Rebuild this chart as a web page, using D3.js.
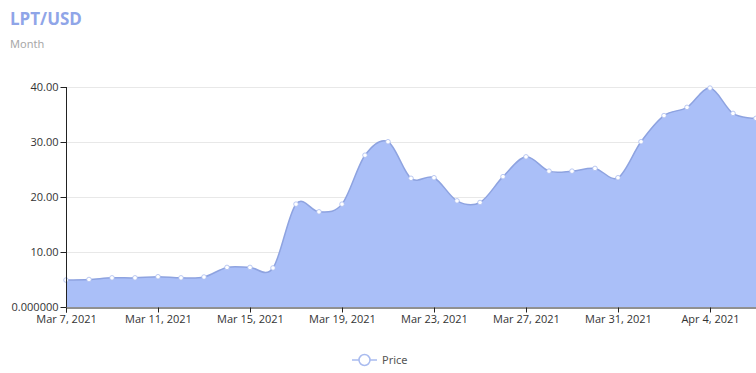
<!DOCTYPE html>
<html>
<head>
<meta charset="utf-8">
<script src="https://cdn.jsdelivr.net/npm/d3@7"></script>
<style>
  body { margin: 0; background: #fff; }
  svg { display: block; font-family: "Noto Sans", sans-serif; }
</style>
</head>
<body>
<div id="chart"></div>
<script>
// daily closes, Mar 7 - Apr 6 2021
var dates = ["2021-03-07","2021-03-08","2021-03-09","2021-03-10","2021-03-11","2021-03-12","2021-03-13",
  "2021-03-14","2021-03-15","2021-03-16","2021-03-17","2021-03-18","2021-03-19","2021-03-20","2021-03-21",
  "2021-03-22","2021-03-23","2021-03-24","2021-03-25","2021-03-26","2021-03-27","2021-03-28","2021-03-29",
  "2021-03-30","2021-03-31","2021-04-01","2021-04-02","2021-04-03","2021-04-04","2021-04-05","2021-04-06"];
var prices = [4.9, 5.0, 5.3, 5.3, 5.5, 5.3, 5.45, 7.2, 7.2, 7.1, 18.7, 17.3, 18.7, 27.6, 30.05,
  23.4, 23.5, 19.3, 19.0, 23.7, 27.3, 24.7, 24.7, 25.2, 23.5, 30.05, 34.8, 36.3, 39.8, 35.2, 34.3];
var yTicks = [0, 10, 20, 30, 40];
var yTickLabels = ["0.000000", "10.00", "20.00", "30.00", "40.00"];
var xTicks = ["2021-03-07","2021-03-11","2021-03-15","2021-03-19","2021-03-23","2021-03-27","2021-03-31","2021-04-04"];

(function() {
  var width = 756;
  var height = 373;
  var parse = d3.timeParse("%Y-%m-%d");

  var data = dates.map(function(d, i) {
    return { date: parse(d), price: prices[i] };
  });

  var svg = d3.select("#chart").append("svg")
    .attr("width", width)
    .attr("height", height);

  // the left edge cuts the first y label, like the original widget
  svg.append("defs").append("clipPath").attr("id", "leftcut")
    .append("rect").attr("x", 5).attr("y", 0).attr("width", width).attr("height", height);

  // title
  svg.append("text")
    .attr("x", 10).attr("y", 25)
    .attr("fill", "#8fa5e8")
    .attr("font-size", 17)
    .attr("font-weight", "bold")
    .attr("font-family", "'Open Sans', sans-serif")
    .text("LPT/USD");
  svg.append("text")
    .attr("x", 10).attr("y", 48)
    .attr("fill", "#a8a8a8")
    .attr("font-size", 11)
    .text("Month");

  var x = d3.scaleTime()
    .domain([parse(dates[0]), parse(dates[dates.length - 1])])
    .range([66, 756]);
  var y = d3.scaleLinear().domain([0, 40]).range([307, 87]);

  // gridlines
  svg.append("g").selectAll("line")
    .data(yTicks.slice(1))
    .enter().append("line")
    .attr("x1", 66).attr("x2", width)
    .attr("y1", function(d) { return y(d) + 0.5; })
    .attr("y2", function(d) { return y(d) + 0.5; })
    .attr("stroke", "#e8e8e8");

  var curve = d3.curveCatmullRom.alpha(0);

  var area = d3.area()
    .x(function(d) { return x(d.date); })
    .y0(y(0))
    .y1(function(d) { return y(d.price); })
    .curve(curve);
  var line = d3.line()
    .x(function(d) { return x(d.date); })
    .y(function(d) { return y(d.price); })
    .curve(curve);

  svg.append("path").datum(data)
    .attr("d", area)
    .attr("fill", "#aabff8");
  svg.append("path").datum(data)
    .attr("d", line)
    .attr("fill", "none")
    .attr("stroke", "#8ea3e0")
    .attr("stroke-width", 1.5);

  svg.append("g").selectAll("circle")
    .data(data)
    .enter().append("circle")
    .attr("cx", function(d) { return x(d.date); })
    .attr("cy", function(d) { return y(d.price); })
    .attr("r", 2.3)
    .attr("fill", "#fff")
    .attr("stroke", "#a9bbef")
    .attr("stroke-width", 0.8);

  // axes
  var yAxis = d3.axisLeft(y)
    .tickValues(yTicks)
    .tickSize(6)
    .tickPadding(2)
    .tickFormat(function(d, i) { return yTickLabels[i]; });
  var gy = svg.append("g")
    .attr("clip-path", "url(#leftcut)")
    .append("g")
    .attr("transform", "translate(66.5,0)")
    .call(yAxis);

  var xAxis = d3.axisBottom(x)
    .tickValues(xTicks.map(parse))
    .tickSize(5)
    .tickPadding(3)
    .tickFormat(d3.timeFormat("%b %-d, %Y"));
  var gx = svg.append("g")
    .attr("transform", "translate(0,307.5)")
    .call(xAxis);

  [gx, gy].forEach(function(g) {
    g.select(".domain").attr("stroke", "#222");
    g.selectAll(".tick line").attr("stroke", "#222");
    g.selectAll(".tick text")
      .attr("fill", "#333")
      .attr("font-size", 11)
      .attr("font-family", "'Open Sans', sans-serif");
  });
  gy.select(".domain").attr("d", "M-0,87V307");

  // legend
  var lg = svg.append("g").attr("transform", "translate(352,360)");
  lg.append("line")
    .attr("x1", 0).attr("x2", 25)
    .attr("stroke", "#a9bbef").attr("stroke-width", 1.5);
  lg.append("circle")
    .attr("cx", 12.5).attr("r", 5.5)
    .attr("fill", "#fff")
    .attr("stroke", "#a9bbef").attr("stroke-width", 1.5);
  lg.append("text")
    .attr("x", 30).attr("y", 4)
    .attr("fill", "#555")
    .attr("font-size", 11)
    .text("Price");
})();
</script>
</body>
</html>
